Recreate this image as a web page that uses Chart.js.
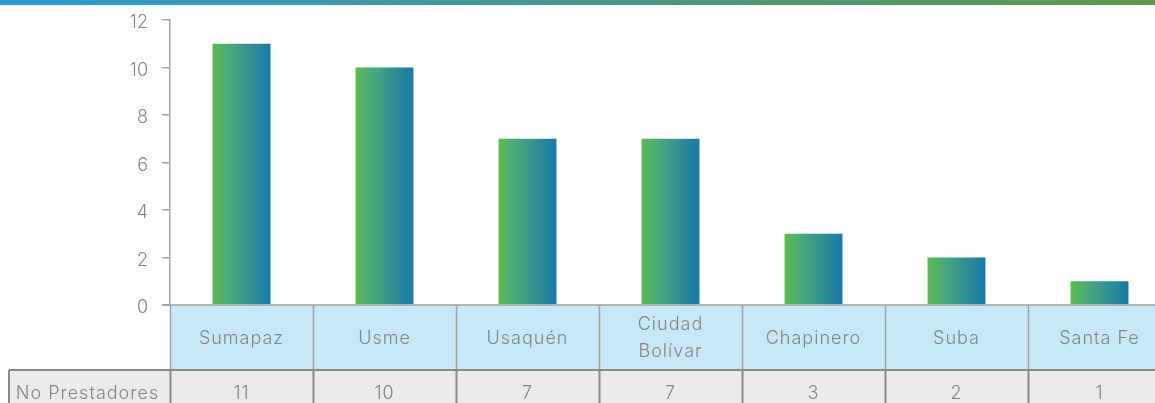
<!DOCTYPE html>
<html>
<head>
<meta charset="utf-8">
<script src="https://cdn.jsdelivr.net/npm/chart.js@4"></script>
<style>
  body { margin: 0; overflow: hidden; background: #fff; }
  #wrap { width: 1171px; height: 403px; }
</style>
</head>
<body>
<div id="wrap"><canvas id="grafico"></canvas></div>
<script>
// datos
const localidades = ["Sumapaz", "Usme", "Usaquén", ["Ciudad", "Bolívar"], "Chapinero", "Suba", "Santa Fe"];
const prestadores = [11, 10, 7, 7, 3, 2, 1];
const serieNombre = "No Prestadores";
const yTicks = [0, 2, 4, 6, 8, 10, 12];

const FONT = "Inter";
const GRIS_TXT = "#858585";

// barra superior, franja de categorias y tabla inferior
const tablaPlugin = {
  id: "tabla",
  beforeDatasetsDraw(chart) {
    // gradiente horizontal en cada barra
    const ctx = chart.ctx;
    chart.getDatasetMeta(0).data.forEach(bar => {
      const g = ctx.createLinearGradient(bar.x - bar.width / 2, 0, bar.x + bar.width / 2, 0);
      g.addColorStop(0, "#5cbb52");
      g.addColorStop(0.3, "#4aa97a");
      g.addColorStop(0.6, "#33938f");
      g.addColorStop(1, "#1879ad");
      bar.options = Object.assign({}, bar.options, { backgroundColor: g });
    });
  },
  afterDraw(chart) {
    const ctx = chart.ctx;
    const area = chart.chartArea;
    const x = chart.scales.x;
    const w = (area.right - area.left) / localidades.length;
    const top = area.bottom;
    const mid = top + 65;
    const bottom = chart.height + 5;

    ctx.save();
    // franja superior
    const sg = ctx.createLinearGradient(0, 0, 1155, 0);
    sg.addColorStop(0, "#279dd6");
    sg.addColorStop(0.5, "#46978d");
    sg.addColorStop(1, "#5e9848");
    ctx.fillStyle = sg;
    ctx.fillRect(0, 0, chart.width, 5);

    // franja de categorias
    ctx.fillStyle = "#c6e8f8";
    ctx.fillRect(area.left, top, area.right - area.left, mid - top);
    // fila de valores
    ctx.fillStyle = "#ebebec";
    ctx.fillRect(9, mid, area.right - 9, bottom - mid);

    ctx.strokeStyle = "#a3a3a3";
    ctx.lineWidth = 1.5;
    ctx.beginPath();
    ctx.moveTo(area.left - 8, top);
    ctx.lineTo(area.right, top);
    for (let i = 0; i <= localidades.length; i++) {
      const bx = Math.round(area.left + i * w) + 0.5;
      ctx.moveTo(bx, top);
      ctx.lineTo(bx, mid);
    }
    ctx.stroke();

    ctx.strokeStyle = "#8a8a8a";
    ctx.lineWidth = 2;
    ctx.beginPath();
    ctx.moveTo(9, mid);
    ctx.lineTo(area.right, mid);
    ctx.moveTo(9, mid);
    ctx.lineTo(9, bottom);
    for (let i = 0; i <= localidades.length; i++) {
      const bx = Math.round(area.left + i * w) + 0.5;
      ctx.moveTo(bx, mid);
      ctx.lineTo(bx, bottom);
    }
    ctx.stroke();

    // textos
    ctx.fillStyle = GRIS_TXT;
    ctx.font = "300 18px " + FONT;
    ctx.letterSpacing = "1px";
    ctx.textAlign = "center";
    ctx.textBaseline = "middle";
    localidades.forEach((lab, i) => {
      const cx = x.getPixelForValue(i);
      const lines = Array.isArray(lab) ? lab : [lab];
      const lh = 27;
      const y0 = (top + mid) / 2 + 1 - (lines.length - 1) * lh / 2;
      lines.forEach((l, j) => ctx.fillText(l, cx, y0 + j * lh));
      ctx.fillText(String(prestadores[i]), cx, mid + 24);
    });
    ctx.fillText(serieNombre, (5 + area.left) / 2, mid + 24);
    ctx.restore();
  }
};

new Chart(document.getElementById("grafico"), {
  type: "bar",
  data: {
    labels: localidades,
    datasets: [{
      label: serieNombre,
      data: prestadores,
      backgroundColor: "#3a9a8a",
      borderWidth: 0,
      categoryPercentage: 1,
      barPercentage: 0.405
    }]
  },
  options: {
    responsive: true,
    maintainAspectRatio: false,
    animation: false,
    layout: { padding: { top: 20, bottom: 98, right: 0, left: 0 } },
    plugins: { legend: { display: false }, tooltip: { enabled: false } },
    scales: {
      x: { display: false, offset: true },
      y: {
        min: 0,
        max: 12,
        afterFit: s => { s.width = 170; s.paddingTop = 0; s.paddingBottom = 0; },
        afterBuildTicks: s => { s.ticks = yTicks.map(v => ({ value: v })); },
        ticks: {
          color: GRIS_TXT,
          font: { family: FONT, size: 18, weight: 300 },
          padding: 14,
          labelOffset: 3
        },
        grid: { drawOnChartArea: false, tickLength: 8, color: "#a3a3a3", lineWidth: 1.5 },
        border: { color: "#a3a3a3", width: 1.5 }
      }
    }
  },
  plugins: [tablaPlugin]
});
</script>
</body>
</html>
